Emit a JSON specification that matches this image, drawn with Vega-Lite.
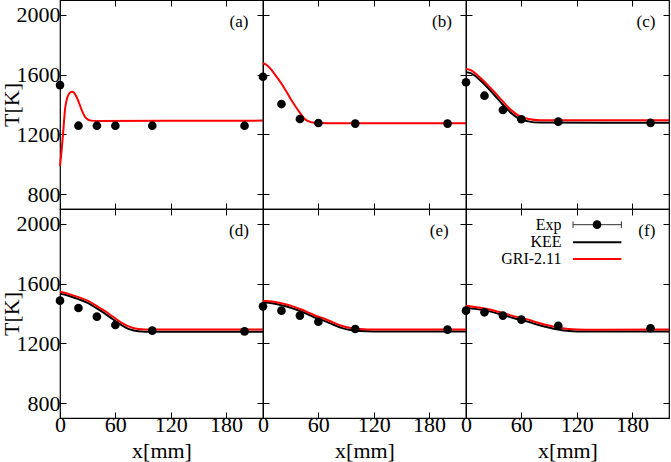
{
  "$schema": "https://vega.github.io/schema/vega-lite/v6.json",
  "padding": {"left": -1, "top": -2, "right": 0, "bottom": 0},
  "background": "#ffffff",
  "config": {
    "font": "Liberation Serif",
    "text": {"font": "Liberation Serif"},
    "view": {"stroke": "#000000", "strokeWidth": 1.2},
    "axis": {
      "domain": false, "grid": false, "tickSize": -6, "tickColor": "#000000", "tickWidth": 1,
      "labelFont": "Liberation Serif", "titleFont": "Liberation Serif",
      "labelFontSize": 22, "labelColor": "#000000", "labelFlush": false, "labelOverlap": false,
      "titleFontSize": 22, "titleFontWeight": "normal", "titleColor": "#000000"
    },
    "axisX": {"labelPadding": 2.5, "titleY": 32, "titleBaseline": "middle"},
    "axisY": {"labelPadding": 6, "titleX": -49, "titleBaseline": "middle"}
  },
  "datasets": {
    "curves": [
      {"panel": "a", "series": "GRI-2.11", "x": 0, "T": 988},
      {"panel": "a", "series": "GRI-2.11", "x": 2, "T": 1110},
      {"panel": "a", "series": "GRI-2.11", "x": 4, "T": 1258},
      {"panel": "a", "series": "GRI-2.11", "x": 5.5, "T": 1370},
      {"panel": "a", "series": "GRI-2.11", "x": 8, "T": 1448},
      {"panel": "a", "series": "GRI-2.11", "x": 10.5, "T": 1478},
      {"panel": "a", "series": "GRI-2.11", "x": 13, "T": 1486},
      {"panel": "a", "series": "GRI-2.11", "x": 15, "T": 1480},
      {"panel": "a", "series": "GRI-2.11", "x": 18, "T": 1450},
      {"panel": "a", "series": "GRI-2.11", "x": 21, "T": 1405},
      {"panel": "a", "series": "GRI-2.11", "x": 24, "T": 1355},
      {"panel": "a", "series": "GRI-2.11", "x": 27, "T": 1318},
      {"panel": "a", "series": "GRI-2.11", "x": 30, "T": 1300},
      {"panel": "a", "series": "GRI-2.11", "x": 34, "T": 1292},
      {"panel": "a", "series": "GRI-2.11", "x": 40, "T": 1290},
      {"panel": "a", "series": "GRI-2.11", "x": 220, "T": 1292},
      {"panel": "b", "series": "GRI-2.11", "x": 0, "T": 1676},
      {"panel": "b", "series": "GRI-2.11", "x": 4, "T": 1665},
      {"panel": "b", "series": "GRI-2.11", "x": 8, "T": 1640},
      {"panel": "b", "series": "GRI-2.11", "x": 13, "T": 1600},
      {"panel": "b", "series": "GRI-2.11", "x": 19, "T": 1549},
      {"panel": "b", "series": "GRI-2.11", "x": 25, "T": 1490},
      {"panel": "b", "series": "GRI-2.11", "x": 30, "T": 1437},
      {"panel": "b", "series": "GRI-2.11", "x": 36, "T": 1380},
      {"panel": "b", "series": "GRI-2.11", "x": 41, "T": 1336},
      {"panel": "b", "series": "GRI-2.11", "x": 45, "T": 1305},
      {"panel": "b", "series": "GRI-2.11", "x": 49, "T": 1288},
      {"panel": "b", "series": "GRI-2.11", "x": 55, "T": 1278},
      {"panel": "b", "series": "GRI-2.11", "x": 70, "T": 1275},
      {"panel": "b", "series": "GRI-2.11", "x": 220, "T": 1275},
      {"panel": "c", "series": "KEE", "x": 0, "T": 1616},
      {"panel": "c", "series": "KEE", "x": 5, "T": 1610},
      {"panel": "c", "series": "KEE", "x": 13, "T": 1576},
      {"panel": "c", "series": "KEE", "x": 22, "T": 1522},
      {"panel": "c", "series": "KEE", "x": 31, "T": 1462},
      {"panel": "c", "series": "KEE", "x": 40, "T": 1398},
      {"panel": "c", "series": "KEE", "x": 49.5, "T": 1340},
      {"panel": "c", "series": "KEE", "x": 58, "T": 1303},
      {"panel": "c", "series": "KEE", "x": 67.6, "T": 1287},
      {"panel": "c", "series": "KEE", "x": 80, "T": 1279},
      {"panel": "c", "series": "KEE", "x": 220, "T": 1278},
      {"panel": "c", "series": "GRI-2.11", "x": 0, "T": 1638},
      {"panel": "c", "series": "GRI-2.11", "x": 5, "T": 1630},
      {"panel": "c", "series": "GRI-2.11", "x": 13, "T": 1593},
      {"panel": "c", "series": "GRI-2.11", "x": 22, "T": 1540},
      {"panel": "c", "series": "GRI-2.11", "x": 31, "T": 1482},
      {"panel": "c", "series": "GRI-2.11", "x": 40, "T": 1420},
      {"panel": "c", "series": "GRI-2.11", "x": 49.5, "T": 1359},
      {"panel": "c", "series": "GRI-2.11", "x": 58, "T": 1322},
      {"panel": "c", "series": "GRI-2.11", "x": 67.6, "T": 1303},
      {"panel": "c", "series": "GRI-2.11", "x": 80, "T": 1295},
      {"panel": "c", "series": "GRI-2.11", "x": 220, "T": 1294},
      {"panel": "d", "series": "KEE", "x": 0, "T": 1533},
      {"panel": "d", "series": "KEE", "x": 10, "T": 1517},
      {"panel": "d", "series": "KEE", "x": 20, "T": 1496},
      {"panel": "d", "series": "KEE", "x": 30, "T": 1471},
      {"panel": "d", "series": "KEE", "x": 40, "T": 1434},
      {"panel": "d", "series": "KEE", "x": 48, "T": 1402},
      {"panel": "d", "series": "KEE", "x": 57, "T": 1363},
      {"panel": "d", "series": "KEE", "x": 66, "T": 1325},
      {"panel": "d", "series": "KEE", "x": 75, "T": 1295},
      {"panel": "d", "series": "KEE", "x": 85, "T": 1281},
      {"panel": "d", "series": "KEE", "x": 100, "T": 1277},
      {"panel": "d", "series": "KEE", "x": 220, "T": 1278},
      {"panel": "d", "series": "GRI-2.11", "x": 0, "T": 1546},
      {"panel": "d", "series": "GRI-2.11", "x": 10, "T": 1530},
      {"panel": "d", "series": "GRI-2.11", "x": 20, "T": 1510},
      {"panel": "d", "series": "GRI-2.11", "x": 30, "T": 1486},
      {"panel": "d", "series": "GRI-2.11", "x": 40, "T": 1450},
      {"panel": "d", "series": "GRI-2.11", "x": 48, "T": 1419},
      {"panel": "d", "series": "GRI-2.11", "x": 57, "T": 1380},
      {"panel": "d", "series": "GRI-2.11", "x": 66, "T": 1341},
      {"panel": "d", "series": "GRI-2.11", "x": 75, "T": 1312},
      {"panel": "d", "series": "GRI-2.11", "x": 85, "T": 1296},
      {"panel": "d", "series": "GRI-2.11", "x": 100, "T": 1292},
      {"panel": "d", "series": "GRI-2.11", "x": 220, "T": 1293},
      {"panel": "e", "series": "KEE", "x": 0, "T": 1475},
      {"panel": "e", "series": "KEE", "x": 10, "T": 1468},
      {"panel": "e", "series": "KEE", "x": 20, "T": 1455},
      {"panel": "e", "series": "KEE", "x": 30, "T": 1439},
      {"panel": "e", "series": "KEE", "x": 40, "T": 1417},
      {"panel": "e", "series": "KEE", "x": 48.6, "T": 1395},
      {"panel": "e", "series": "KEE", "x": 57, "T": 1371},
      {"panel": "e", "series": "KEE", "x": 67, "T": 1349},
      {"panel": "e", "series": "KEE", "x": 76, "T": 1326},
      {"panel": "e", "series": "KEE", "x": 85, "T": 1304},
      {"panel": "e", "series": "KEE", "x": 95, "T": 1289},
      {"panel": "e", "series": "KEE", "x": 105, "T": 1282},
      {"panel": "e", "series": "KEE", "x": 120, "T": 1279},
      {"panel": "e", "series": "KEE", "x": 220, "T": 1279},
      {"panel": "e", "series": "GRI-2.11", "x": 0, "T": 1486},
      {"panel": "e", "series": "GRI-2.11", "x": 10, "T": 1480},
      {"panel": "e", "series": "GRI-2.11", "x": 20, "T": 1468},
      {"panel": "e", "series": "GRI-2.11", "x": 30, "T": 1452},
      {"panel": "e", "series": "GRI-2.11", "x": 40, "T": 1430},
      {"panel": "e", "series": "GRI-2.11", "x": 48.6, "T": 1408},
      {"panel": "e", "series": "GRI-2.11", "x": 57, "T": 1385},
      {"panel": "e", "series": "GRI-2.11", "x": 67, "T": 1363},
      {"panel": "e", "series": "GRI-2.11", "x": 76, "T": 1340},
      {"panel": "e", "series": "GRI-2.11", "x": 85, "T": 1318},
      {"panel": "e", "series": "GRI-2.11", "x": 95, "T": 1303},
      {"panel": "e", "series": "GRI-2.11", "x": 105, "T": 1296},
      {"panel": "e", "series": "GRI-2.11", "x": 120, "T": 1292},
      {"panel": "e", "series": "GRI-2.11", "x": 220, "T": 1292},
      {"panel": "f", "series": "KEE", "x": 0, "T": 1439},
      {"panel": "f", "series": "KEE", "x": 10, "T": 1431},
      {"panel": "f", "series": "KEE", "x": 20, "T": 1421},
      {"panel": "f", "series": "KEE", "x": 31, "T": 1406},
      {"panel": "f", "series": "KEE", "x": 40, "T": 1390},
      {"panel": "f", "series": "KEE", "x": 49.5, "T": 1373},
      {"panel": "f", "series": "KEE", "x": 58, "T": 1359},
      {"panel": "f", "series": "KEE", "x": 67.6, "T": 1345},
      {"panel": "f", "series": "KEE", "x": 76, "T": 1328},
      {"panel": "f", "series": "KEE", "x": 86, "T": 1311},
      {"panel": "f", "series": "KEE", "x": 95, "T": 1298},
      {"panel": "f", "series": "KEE", "x": 104, "T": 1288},
      {"panel": "f", "series": "KEE", "x": 120, "T": 1280},
      {"panel": "f", "series": "KEE", "x": 140, "T": 1279},
      {"panel": "f", "series": "KEE", "x": 220, "T": 1280},
      {"panel": "f", "series": "GRI-2.11", "x": 0, "T": 1452},
      {"panel": "f", "series": "GRI-2.11", "x": 10, "T": 1444},
      {"panel": "f", "series": "GRI-2.11", "x": 20, "T": 1434},
      {"panel": "f", "series": "GRI-2.11", "x": 31, "T": 1419},
      {"panel": "f", "series": "GRI-2.11", "x": 40, "T": 1403},
      {"panel": "f", "series": "GRI-2.11", "x": 49.5, "T": 1386},
      {"panel": "f", "series": "GRI-2.11", "x": 58, "T": 1372},
      {"panel": "f", "series": "GRI-2.11", "x": 67.6, "T": 1359},
      {"panel": "f", "series": "GRI-2.11", "x": 76, "T": 1341},
      {"panel": "f", "series": "GRI-2.11", "x": 86, "T": 1325},
      {"panel": "f", "series": "GRI-2.11", "x": 95, "T": 1312},
      {"panel": "f", "series": "GRI-2.11", "x": 104, "T": 1301},
      {"panel": "f", "series": "GRI-2.11", "x": 120, "T": 1293},
      {"panel": "f", "series": "GRI-2.11", "x": 140, "T": 1291},
      {"panel": "f", "series": "GRI-2.11", "x": 220, "T": 1292}
    ],
    "exp": [
      {"panel": "a", "x": 0, "T": 1530}, {"panel": "a", "x": 20, "T": 1258}, {"panel": "a", "x": 40, "T": 1258},
      {"panel": "a", "x": 60, "T": 1258}, {"panel": "a", "x": 100, "T": 1258}, {"panel": "a", "x": 200, "T": 1258},
      {"panel": "b", "x": 0, "T": 1586}, {"panel": "b", "x": 20, "T": 1403}, {"panel": "b", "x": 40, "T": 1303},
      {"panel": "b", "x": 60, "T": 1276}, {"panel": "b", "x": 100, "T": 1272}, {"panel": "b", "x": 200, "T": 1272},
      {"panel": "c", "x": 0, "T": 1549}, {"panel": "c", "x": 20, "T": 1459}, {"panel": "c", "x": 40, "T": 1363},
      {"panel": "c", "x": 60, "T": 1301}, {"panel": "c", "x": 100, "T": 1285}, {"panel": "c", "x": 200, "T": 1277},
      {"panel": "d", "x": 0, "T": 1486}, {"panel": "d", "x": 20, "T": 1437}, {"panel": "d", "x": 40, "T": 1379},
      {"panel": "d", "x": 60, "T": 1323}, {"panel": "d", "x": 100, "T": 1285}, {"panel": "d", "x": 200, "T": 1280},
      {"panel": "e", "x": 0, "T": 1448}, {"panel": "e", "x": 20, "T": 1419}, {"panel": "e", "x": 40, "T": 1386},
      {"panel": "e", "x": 60, "T": 1345}, {"panel": "e", "x": 100, "T": 1296}, {"panel": "e", "x": 200, "T": 1292},
      {"panel": "f", "x": 0, "T": 1419}, {"panel": "f", "x": 20, "T": 1408}, {"panel": "f", "x": 40, "T": 1386},
      {"panel": "f", "x": 60, "T": 1359}, {"panel": "f", "x": 100, "T": 1318}, {"panel": "f", "x": 200, "T": 1301}
    ],
    "panels": [
      {"panel": "a", "label": "(a)"}, {"panel": "b", "label": "(b)"}, {"panel": "c", "label": "(c)"},
      {"panel": "d", "label": "(d)"}, {"panel": "e", "label": "(e)"}, {"panel": "f", "label": "(f)"}
    ],
    "legend": [
      {"entry": "Exp"}, {"entry": "KEE"}, {"entry": "GRI-2.11"}
    ]
  },
  "columns": 3,
  "spacing": 0,
  "bounds": "flush",
  "concat": [
    {
      "width": 203, "height": 209,
      "layer": [
        {"data": {"name": "curves"}, "transform": [{"filter": "datum.panel === 'a'"}],
         "mark": {"type": "line", "interpolate": "monotone", "strokeWidth": 2},
         "encoding": {
           "x": {"field": "x", "type": "quantitative", "scale": {"domain": [0, 220], "nice": false}, "axis": {"values": [0, 60, 120, 180], "labels": false, "title": null}},
           "y": {"field": "T", "type": "quantitative", "scale": {"domain": [700, 2100], "nice": false, "zero": false}, "axis": {"values": [800, 1200, 1600, 2000], "format": "d", "title": "T[K]"}},
           "color": {"field": "series", "type": "nominal", "scale": {"domain": ["KEE", "GRI-2.11"], "range": ["#000000", "#ff0000"]}, "legend": null}}},
        {"data": {"name": "exp"}, "transform": [{"filter": "datum.panel === 'a'"}],
         "mark": {"type": "point", "filled": true, "color": "#000000", "size": 75, "opacity": 1},
         "encoding": {
           "x": {"field": "x", "type": "quantitative", "axis": {"orient": "top", "values": [0, 60, 120, 180], "labels": false, "title": null}},
           "y": {"field": "T", "type": "quantitative", "axis": {"orient": "right", "values": [800, 1200, 1600, 2000], "labels": false, "title": null}}}},
        {"data": {"name": "panels"}, "transform": [{"filter": "datum.panel === 'a'"}],
         "mark": {"type": "text", "fontSize": 17, "align": "center", "baseline": "middle"},
         "encoding": {"x": {"datum": 194, "type": "quantitative", "axis": null}, "y": {"datum": 1950, "type": "quantitative", "axis": null}, "text": {"field": "label"}}}
      ],
      "resolve": {"axis": {"x": "independent", "y": "independent"}}
    },
    {
      "width": 203, "height": 209,
      "layer": [
        {"data": {"name": "curves"}, "transform": [{"filter": "datum.panel === 'b'"}],
         "mark": {"type": "line", "interpolate": "monotone", "strokeWidth": 2},
         "encoding": {
           "x": {"field": "x", "type": "quantitative", "scale": {"domain": [0, 220], "nice": false}, "axis": {"values": [0, 60, 120, 180], "labels": false, "title": null}},
           "y": {"field": "T", "type": "quantitative", "scale": {"domain": [700, 2100], "nice": false, "zero": false}, "axis": {"values": [800, 1200, 1600, 2000], "labels": false, "title": null}},
           "color": {"field": "series", "type": "nominal", "scale": {"domain": ["KEE", "GRI-2.11"], "range": ["#000000", "#ff0000"]}, "legend": null}}},
        {"data": {"name": "exp"}, "transform": [{"filter": "datum.panel === 'b'"}],
         "mark": {"type": "point", "filled": true, "color": "#000000", "size": 75, "opacity": 1},
         "encoding": {
           "x": {"field": "x", "type": "quantitative", "axis": {"orient": "top", "values": [0, 60, 120, 180], "labels": false, "title": null}},
           "y": {"field": "T", "type": "quantitative", "axis": {"orient": "right", "values": [800, 1200, 1600, 2000], "labels": false, "title": null}}}},
        {"data": {"name": "panels"}, "transform": [{"filter": "datum.panel === 'b'"}],
         "mark": {"type": "text", "fontSize": 17, "align": "center", "baseline": "middle"},
         "encoding": {"x": {"datum": 194, "type": "quantitative", "axis": null}, "y": {"datum": 1950, "type": "quantitative", "axis": null}, "text": {"field": "label"}}}
      ],
      "resolve": {"axis": {"x": "independent", "y": "independent"}}
    },
    {
      "width": 203, "height": 209,
      "layer": [
        {"data": {"name": "curves"}, "transform": [{"filter": "datum.panel === 'c'"}],
         "mark": {"type": "line", "interpolate": "monotone", "strokeWidth": 2},
         "encoding": {
           "x": {"field": "x", "type": "quantitative", "scale": {"domain": [0, 220], "nice": false}, "axis": {"values": [0, 60, 120, 180], "labels": false, "title": null}},
           "y": {"field": "T", "type": "quantitative", "scale": {"domain": [700, 2100], "nice": false, "zero": false}, "axis": {"values": [800, 1200, 1600, 2000], "labels": false, "title": null}},
           "color": {"field": "series", "type": "nominal", "scale": {"domain": ["KEE", "GRI-2.11"], "range": ["#000000", "#ff0000"]}, "legend": null}}},
        {"data": {"name": "exp"}, "transform": [{"filter": "datum.panel === 'c'"}],
         "mark": {"type": "point", "filled": true, "color": "#000000", "size": 75, "opacity": 1},
         "encoding": {
           "x": {"field": "x", "type": "quantitative", "axis": {"orient": "top", "values": [0, 60, 120, 180], "labels": false, "title": null}},
           "y": {"field": "T", "type": "quantitative", "axis": {"orient": "right", "values": [800, 1200, 1600, 2000], "labels": false, "title": null}}}},
        {"data": {"name": "panels"}, "transform": [{"filter": "datum.panel === 'c'"}],
         "mark": {"type": "text", "fontSize": 17, "align": "center", "baseline": "middle"},
         "encoding": {"x": {"datum": 195, "type": "quantitative", "axis": null}, "y": {"datum": 1950, "type": "quantitative", "axis": null}, "text": {"field": "label"}}}
      ],
      "resolve": {"axis": {"x": "independent", "y": "independent"}}
    },
    {
      "width": 203, "height": 209,
      "layer": [
        {"data": {"name": "curves"}, "transform": [{"filter": "datum.panel === 'd'"}],
         "mark": {"type": "line", "interpolate": "monotone", "strokeWidth": 2},
         "encoding": {
           "x": {"field": "x", "type": "quantitative", "scale": {"domain": [0, 220], "nice": false}, "axis": {"values": [0, 60, 120, 180], "title": "x[mm]"}},
           "y": {"field": "T", "type": "quantitative", "scale": {"domain": [700, 2100], "nice": false, "zero": false}, "axis": {"values": [800, 1200, 1600, 2000], "format": "d", "title": "T[K]"}},
           "color": {"field": "series", "type": "nominal", "scale": {"domain": ["KEE", "GRI-2.11"], "range": ["#000000", "#ff0000"]}, "legend": null}}},
        {"data": {"name": "exp"}, "transform": [{"filter": "datum.panel === 'd'"}],
         "mark": {"type": "point", "filled": true, "color": "#000000", "size": 75, "opacity": 1},
         "encoding": {
           "x": {"field": "x", "type": "quantitative", "axis": {"orient": "top", "values": [0, 60, 120, 180], "labels": false, "title": null}},
           "y": {"field": "T", "type": "quantitative", "axis": {"orient": "right", "values": [800, 1200, 1600, 2000], "labels": false, "title": null}}}},
        {"data": {"name": "panels"}, "transform": [{"filter": "datum.panel === 'd'"}],
         "mark": {"type": "text", "fontSize": 17, "align": "center", "baseline": "middle"},
         "encoding": {"x": {"datum": 194, "type": "quantitative", "axis": null}, "y": {"datum": 1950, "type": "quantitative", "axis": null}, "text": {"field": "label"}}}
      ],
      "resolve": {"axis": {"x": "independent", "y": "independent"}}
    },
    {
      "width": 203, "height": 209,
      "layer": [
        {"data": {"name": "curves"}, "transform": [{"filter": "datum.panel === 'e'"}],
         "mark": {"type": "line", "interpolate": "monotone", "strokeWidth": 2},
         "encoding": {
           "x": {"field": "x", "type": "quantitative", "scale": {"domain": [0, 220], "nice": false}, "axis": {"values": [0, 60, 120, 180], "title": "x[mm]"}},
           "y": {"field": "T", "type": "quantitative", "scale": {"domain": [700, 2100], "nice": false, "zero": false}, "axis": {"values": [800, 1200, 1600, 2000], "labels": false, "title": null}},
           "color": {"field": "series", "type": "nominal", "scale": {"domain": ["KEE", "GRI-2.11"], "range": ["#000000", "#ff0000"]}, "legend": null}}},
        {"data": {"name": "exp"}, "transform": [{"filter": "datum.panel === 'e'"}],
         "mark": {"type": "point", "filled": true, "color": "#000000", "size": 75, "opacity": 1},
         "encoding": {
           "x": {"field": "x", "type": "quantitative", "axis": {"orient": "top", "values": [0, 60, 120, 180], "labels": false, "title": null}},
           "y": {"field": "T", "type": "quantitative", "axis": {"orient": "right", "values": [800, 1200, 1600, 2000], "labels": false, "title": null}}}},
        {"data": {"name": "panels"}, "transform": [{"filter": "datum.panel === 'e'"}],
         "mark": {"type": "text", "fontSize": 17, "align": "center", "baseline": "middle"},
         "encoding": {"x": {"datum": 191, "type": "quantitative", "axis": null}, "y": {"datum": 1950, "type": "quantitative", "axis": null}, "text": {"field": "label"}}}
      ],
      "resolve": {"axis": {"x": "independent", "y": "independent"}}
    },
    {
      "width": 203, "height": 209,
      "layer": [
        {"data": {"name": "curves"}, "transform": [{"filter": "datum.panel === 'f'"}],
         "mark": {"type": "line", "interpolate": "monotone", "strokeWidth": 2},
         "encoding": {
           "x": {"field": "x", "type": "quantitative", "scale": {"domain": [0, 220], "nice": false}, "axis": {"values": [0, 60, 120, 180], "title": "x[mm]"}},
           "y": {"field": "T", "type": "quantitative", "scale": {"domain": [700, 2100], "nice": false, "zero": false}, "axis": {"values": [800, 1200, 1600, 2000], "labels": false, "title": null}},
           "color": {"field": "series", "type": "nominal", "scale": {"domain": ["KEE", "GRI-2.11"], "range": ["#000000", "#ff0000"]}, "legend": null}}},
        {"data": {"name": "exp"}, "transform": [{"filter": "datum.panel === 'f'"}],
         "mark": {"type": "point", "filled": true, "color": "#000000", "size": 75, "opacity": 1},
         "encoding": {
           "x": {"field": "x", "type": "quantitative", "axis": {"orient": "top", "values": [0, 60, 120, 180], "labels": false, "title": null}},
           "y": {"field": "T", "type": "quantitative", "axis": {"orient": "right", "values": [800, 1200, 1600, 2000], "labels": false, "title": null}}}},
        {"data": {"name": "panels"}, "transform": [{"filter": "datum.panel === 'f'"}],
         "mark": {"type": "text", "fontSize": 17, "align": "center", "baseline": "middle"},
         "encoding": {"x": {"datum": 196, "type": "quantitative", "axis": null}, "y": {"datum": 1950, "type": "quantitative", "axis": null}, "text": {"field": "label"}}},
        {"data": {"name": "legend"}, "transform": [{"filter": "datum.entry === 'Exp'"}],
         "mark": {"type": "text", "fontSize": 16, "align": "right", "baseline": "middle"},
         "encoding": {"x": {"datum": 103.5, "type": "quantitative", "axis": null}, "y": {"datum": 1995, "type": "quantitative", "axis": null}, "text": {"field": "entry"}}},
        {"data": {"name": "legend"}, "transform": [{"filter": "datum.entry === 'KEE'"}],
         "mark": {"type": "text", "fontSize": 16, "align": "right", "baseline": "middle"},
         "encoding": {"x": {"datum": 103.5, "type": "quantitative", "axis": null}, "y": {"datum": 1877, "type": "quantitative", "axis": null}, "text": {"field": "entry"}}},
        {"data": {"name": "legend"}, "transform": [{"filter": "datum.entry === 'GRI-2.11'"}],
         "mark": {"type": "text", "fontSize": 16, "align": "right", "baseline": "middle"},
         "encoding": {"x": {"datum": 103.5, "type": "quantitative", "axis": null}, "y": {"datum": 1765, "type": "quantitative", "axis": null}, "text": {"field": "entry"}}},
        {"data": {"name": "legend"}, "transform": [{"filter": "datum.entry === 'Exp'"}],
         "mark": {"type": "rule", "color": "#333333", "strokeWidth": 1},
         "encoding": {"x": {"datum": 116, "type": "quantitative", "axis": null}, "x2": {"datum": 168.4}, "y": {"datum": 1995, "type": "quantitative", "axis": null}}},
        {"data": {"name": "legend"}, "transform": [{"filter": "datum.entry === 'Exp'"}],
         "mark": {"type": "rule", "color": "#333333", "strokeWidth": 1},
         "encoding": {"x": {"datum": 116, "type": "quantitative", "axis": null}, "y": {"datum": 1973, "type": "quantitative", "axis": null}, "y2": {"datum": 2017}}},
        {"data": {"name": "legend"}, "transform": [{"filter": "datum.entry === 'Exp'"}],
         "mark": {"type": "rule", "color": "#333333", "strokeWidth": 1},
         "encoding": {"x": {"datum": 168.4, "type": "quantitative", "axis": null}, "y": {"datum": 1973, "type": "quantitative", "axis": null}, "y2": {"datum": 2017}}},
        {"data": {"name": "legend"}, "transform": [{"filter": "datum.entry === 'Exp'"}],
         "mark": {"type": "point", "filled": true, "color": "#000000", "size": 75, "opacity": 1},
         "encoding": {"x": {"datum": 142, "type": "quantitative", "axis": null}, "y": {"datum": 1995, "type": "quantitative", "axis": null}}},
        {"data": {"name": "legend"}, "transform": [{"filter": "datum.entry === 'KEE'"}],
         "mark": {"type": "rule", "color": "#000000", "strokeWidth": 2},
         "encoding": {"x": {"datum": 116, "type": "quantitative", "axis": null}, "x2": {"datum": 168.4}, "y": {"datum": 1877, "type": "quantitative", "axis": null}}},
        {"data": {"name": "legend"}, "transform": [{"filter": "datum.entry === 'GRI-2.11'"}],
         "mark": {"type": "rule", "color": "#ff0000", "strokeWidth": 2},
         "encoding": {"x": {"datum": 116, "type": "quantitative", "axis": null}, "x2": {"datum": 168.4}, "y": {"datum": 1765, "type": "quantitative", "axis": null}}}
      ],
      "resolve": {"axis": {"x": "independent", "y": "independent"}}
    }
  ]
}
